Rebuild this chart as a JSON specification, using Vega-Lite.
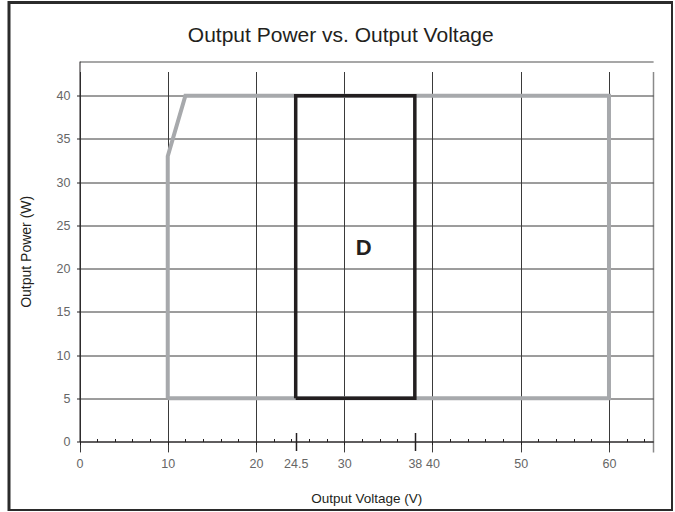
{
  "$schema": "https://vega.github.io/schema/vega-lite/v6.json",
  "autosize": "none",
  "width": 663.5,
  "height": 508,
  "padding": {"left": 9, "top": 2.5, "right": 0, "bottom": 0},
  "background": "white",
  "datasets": {
    "envelope": [
      {"v": 10, "p": 5, "o": 1},
      {"v": 10, "p": 33, "o": 2},
      {"v": 12, "p": 40, "o": 3},
      {"v": 60, "p": 40, "o": 4},
      {"v": 60, "p": 5, "o": 5},
      {"v": 10, "p": 5, "o": 6}
    ],
    "rangeD": [
      {"v": 24.5, "p": 5, "o": 1},
      {"v": 24.5, "p": 40, "o": 2},
      {"v": 38, "p": 40, "o": 3},
      {"v": 38, "p": 5, "o": 4},
      {"v": 24.5, "p": 5, "o": 5}
    ],
    "label": [{"v": 32.2, "p": 22.4, "t": "D"}]
  },
  "title": {
    "text": "Output Power vs. Output Voltage",
    "fontSize": 21,
    "fontWeight": "normal",
    "font": "Liberation Sans",
    "color": "#231f20",
    "anchor": "middle",
    "frame": "group",
    "baseline": "middle",
    "offset": -54
  },
  "config": {
    "view": {"stroke": "#2b2b2b", "strokeWidth": 3},
    "font": "Liberation Sans"
  },
  "layer": [
    {
      "data": {"name": "envelope"},
      "mark": {"type": "line", "color": "#a7a9ac", "strokeWidth": 4, "strokeJoin": "miter"},
      "encoding": {
        "x": {
          "field": "v",
          "type": "quantitative",
          "scale": {"domain": [0, 65], "range": [70.5, 644.1], "nice": false, "zero": false},
          "axis": {
            "orient": "bottom",
            "values": [0, 10, 20, 24.5, 30, 38, 40, 50, 60, 65],
            "title": "Output Voltage (V)",
            "offset": -69,
            "grid": true,
            "gridColor": {"condition": {"test": "datum.value === 65", "value": "#8a8a8a"}, "value": "#3a3a3a"},
            "gridWidth": {"condition": {"test": "datum.value === 65", "value": 1.5}, "value": 1},
            "gridOpacity": {"condition": {"test": "datum.value === 24.5 || datum.value === 38", "value": 0}, "value": 1},
            "tickOpacity": {"condition": {"test": "datum.value === 24.5 || datum.value === 38 || datum.value === 65", "value": 0}, "value": 1},
            "tickSize": 3,
            "tickColor": "#231f20",
            "labelExpr": "datum.value === 65 ? '' : toString(datum.value)",
            "labelOverlap": false,
            "labelFlush": false,
            "labelPadding": 13,
            "labelFontSize": 12.5,
            "labelColor": "#666666",
            "domainColor": "#231f20",
            "titlePadding": 21,
            "titleFontSize": 13.5,
            "titleFontWeight": "normal",
            "titleColor": "#231f20"
          }
        },
        "y": {
          "field": "p",
          "type": "quantitative",
          "scale": {"domain": [0, 44], "range": [439, 58.6], "nice": false, "zero": false},
          "axis": {
            "values": [0, 5, 10, 15, 20, 25, 30, 35, 40, 44],
            "title": "Output Power (W)",
            "offset": -70.5,
            "grid": true,
            "gridColor": {"condition": {"test": "datum.value === 44", "value": "#8a8a8a"}, "value": "#3a3a3a"},
            "gridWidth": {"condition": {"test": "datum.value === 44", "value": 1.5}, "value": 1},
            "tickOpacity": {"condition": {"test": "datum.value === 44", "value": 0}, "value": 1},
            "tickSize": 3,
            "tickColor": "#231f20",
            "labelExpr": "datum.value === 44 ? '' : toString(datum.value)",
            "labelOverlap": false,
            "labelFlush": false,
            "labelPadding": 6.5,
            "labelFontSize": 12.5,
            "labelColor": "#666666",
            "domainColor": "#231f20",
            "titlePadding": 23,
            "titleFontSize": 14,
            "titleFontWeight": "normal",
            "titleColor": "#231f20"
          }
        },
        "order": {"field": "o", "type": "quantitative"}
      }
    },
    {
      "data": {"name": "rangeD"},
      "mark": {"type": "line", "color": "#231f20", "strokeWidth": 3.5, "strokeJoin": "miter"},
      "encoding": {
        "x": {
          "field": "v",
          "type": "quantitative",
          "axis": {
            "orient": "bottom",
            "values": [2, 4, 6, 8, 12, 14, 16, 18, 22, 24, 26, 28, 32, 34, 36, 38, 42, 44, 46, 48, 52, 54, 56, 58, 62, 64],
            "offset": -72,
            "tickSize": 3,
            "tickColor": "#231f20",
            "labels": false,
            "domain": false,
            "grid": false,
            "title": null
          }
        },
        "y": {"field": "p", "type": "quantitative"},
        "order": {"field": "o", "type": "quantitative"}
      }
    },
    {
      "data": {"name": "label"},
      "mark": {"type": "text", "fontSize": 22, "fontWeight": "bold", "font": "Liberation Sans", "color": "#231f20"},
      "encoding": {
        "x": {
          "field": "v",
          "type": "quantitative",
          "axis": {
            "orient": "bottom",
            "values": [24.5, 38],
            "offset": -78,
            "tickSize": 18,
            "tickWidth": 1.5,
            "tickColor": "#231f20",
            "labels": false,
            "domain": false,
            "grid": false,
            "title": null
          }
        },
        "y": {"field": "p", "type": "quantitative"},
        "text": {"field": "t"}
      }
    }
  ],
  "resolve": {"axis": {"x": "independent"}}
}
